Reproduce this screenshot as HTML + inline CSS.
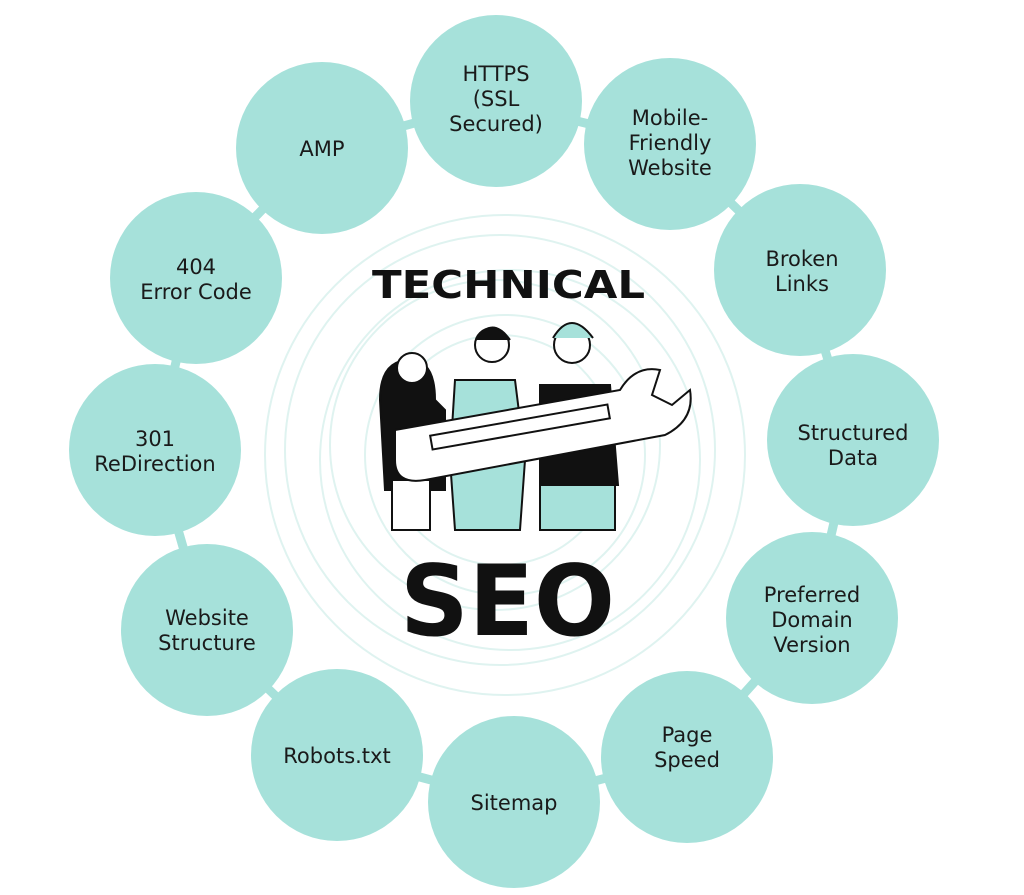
<!DOCTYPE html>
<html><head><style>
body{margin:0;background:#fff;width:1024px;height:895px;overflow:hidden}
svg{display:block}
text{font-family:"DejaVu Sans","Liberation Sans",sans-serif}
.l{font-size:21px;fill:#1a1a1a;text-anchor:middle}
</style></head><body>
<svg width="1024" height="895" viewBox="0 0 1024 895">
<g fill="none" stroke="#dff3f0" stroke-width="2">
<circle cx="505" cy="455" r="240"/><circle cx="500" cy="450" r="215"/><circle cx="510" cy="460" r="190"/><circle cx="495" cy="445" r="165"/><circle cx="505" cy="455" r="140"/><circle cx="500" cy="450" r="115"/>
</g>
<polygon points="496,101 670,144 800,270 853,440 812,618 687,757 514,802 337,755 207,630 155,450 196,278 322,148" fill="none" stroke="#a6e1da" stroke-width="9"/>
<g fill="#a6e1da">
<circle cx="496" cy="101" r="86"/><circle cx="670" cy="144" r="86"/><circle cx="800" cy="270" r="86"/><circle cx="853" cy="440" r="86"/><circle cx="812" cy="618" r="86"/><circle cx="687" cy="757" r="86"/><circle cx="514" cy="802" r="86"/><circle cx="337" cy="755" r="86"/><circle cx="207" cy="630" r="86"/><circle cx="155" cy="450" r="86"/><circle cx="196" cy="278" r="86"/><circle cx="322" cy="148" r="86"/>
</g>
<text class="l" x="496" y="81">HTTPS</text><text class="l" x="496" y="106">(SSL</text><text class="l" x="496" y="131">Secured)</text>
<text class="l" x="670" y="125">Mobile-</text><text class="l" x="670" y="150">Friendly</text><text class="l" x="670" y="175">Website</text>
<text class="l" x="802" y="266">Broken</text><text class="l" x="802" y="291">Links</text>
<text class="l" x="853" y="440">Structured</text><text class="l" x="853" y="465">Data</text>
<text class="l" x="812" y="602">Preferred</text><text class="l" x="812" y="627">Domain</text><text class="l" x="812" y="652">Version</text>
<text class="l" x="687" y="742">Page</text><text class="l" x="687" y="767">Speed</text>
<text class="l" x="514" y="810">Sitemap</text>
<text class="l" x="337" y="763">Robots.txt</text>
<text class="l" x="207" y="625">Website</text><text class="l" x="207" y="650">Structure</text>
<text class="l" x="155" y="446">301</text><text class="l" x="155" y="471">ReDirection</text>
<text class="l" x="196" y="274">404</text><text class="l" x="196" y="299">Error Code</text>
<text class="l" x="322" y="156">AMP</text>
<text x="372" y="298" font-size="38" font-weight="900" fill="#111" textLength="273" lengthAdjust="spacingAndGlyphs">TECHNICAL</text>
<text x="400" y="635" font-size="98" font-weight="900" fill="#111" textLength="215" lengthAdjust="spacingAndGlyphs">SEO</text>
<g stroke="#111" stroke-width="2">
<path d="M380 400 q0-40 30-40 q25 0 25 40 l10 10 l0 80 l-60 0 z" fill="#111"/>
<circle cx="412" cy="368" r="15" fill="#fff"/>
<rect x="392" y="480" width="38" height="50" fill="#fff"/>
<path d="M455 380 l60 0 l10 80 l-5 70 l-65 0 l-5-70 z" fill="#a6e1da"/>
<circle cx="492" cy="345" r="17" fill="#fff"/>
<path d="M476 340 q16-25 34 0" fill="#111"/>
<path d="M540 385 l70 0 l8 100 l-78 0 z" fill="#111"/>
<circle cx="572" cy="345" r="18" fill="#fff"/>
<path d="M553 338 q18-30 40 0" fill="#a6e1da"/>
<rect x="540" y="485" width="75" height="45" fill="#a6e1da"/>
<path d="M395 430 l225 -40 q15-25 40-20 l-8 25 l20 10 l18-15 q5 30-25 45 l-240 45 q-30 5-30-20 z" fill="#fff"/>
<rect x="430" y="420" width="180" height="14" transform="rotate(-10 520 427)" fill="#fff"/>
</g>
</svg>
</body></html>
